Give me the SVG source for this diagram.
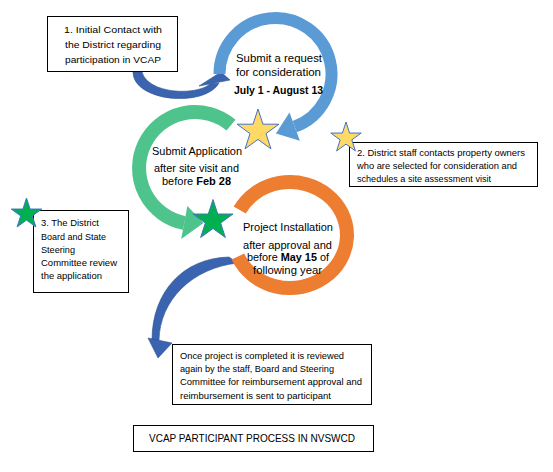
<svg xmlns="http://www.w3.org/2000/svg" xmlns:xlink="http://www.w3.org/1999/xlink" width="553" height="472" viewBox="0 0 553 472">
<style>
.box{fill:#fff;stroke:#000;stroke-width:1}
.t{font-family:"Liberation Sans",Arial,sans-serif;fill:#000}
.s{font-size:9.5px}
.m{font-size:10.5px}
.b{font-weight:bold}
.ring{fill:none;stroke-linecap:butt}
.dark{fill:#3A64B0;stroke:#2F528F;stroke-width:0.6}
.star{stroke:#4472C4;stroke-width:1;stroke-linejoin:miter}
</style>
<defs>
<path id="star" d="M0,-10 L2.245,-3.09 L9.511,-3.09 L3.633,1.18 L5.878,8.09 L0,3.82 L-5.878,8.09 L-3.633,1.18 L-9.511,-3.09 L-2.245,-3.09 Z" vector-effect="non-scaling-stroke"/>
</defs>
<rect width="553" height="472" fill="#fff"/>

<g id="connectors">
  <path class="dark" d="M133,72 C133,102 205,108 219,83 L210,84 C196,96 148,94 142,72 Z"/>
  <polygon class="dark" points="199,86 221,72 230,80"/>
  <path class="dark" d="M229,257 C183,258 152,292 152,340 L159,340 C160,300 192,268 238,263 Z"/>
  <polygon class="dark" points="148,338 172,343 158,358"/>
</g>

<g id="ring-blue">
  <path class="ring" stroke="#5B9BD5" stroke-width="12" d="M219.5,74 A56,56 0 1 1 294.7,126.6"/>
  <polygon fill="#5B9BD5" points="299.9,140.7 289.5,112.5 275.9,133.4"/>
  <text class="t m" x="279" y="61.5" text-anchor="middle" textLength="86" lengthAdjust="spacingAndGlyphs">Submit a request</text>
  <text class="t m" x="278.5" y="75.5" text-anchor="middle" textLength="85" lengthAdjust="spacingAndGlyphs">for consideration</text>
  <text class="t m b" x="278.5" y="93.5" text-anchor="middle" textLength="89" lengthAdjust="spacingAndGlyphs">July 1 - August 13</text>
</g>

<g id="ring-green">
  <path class="ring" stroke="#4EC48C" stroke-width="14" d="M231,125.1 A56,56 0 1 0 184.3,223"/>
  <polygon fill="#4EC48C" points="181.2,239 187.4,206 203.5,223"/>
  <text class="t m" x="197" y="154.5" text-anchor="middle" textLength="90" lengthAdjust="spacingAndGlyphs">Submit Application</text>
  <text class="t m" x="196.5" y="172" text-anchor="middle" textLength="85" lengthAdjust="spacingAndGlyphs">after site visit and</text>
  <text class="t m" x="162" y="184.5" textLength="69" lengthAdjust="spacingAndGlyphs">before  <tspan class="b">Feb 28</tspan></text>
</g>

<g id="ring-orange">
  <path class="ring" stroke="#ED7D31" stroke-width="14" d="M239.7,210.1 A57,53 0 1 1 237.9,256.6"/>
  <text class="t m" x="288" y="231" text-anchor="middle" textLength="90" lengthAdjust="spacingAndGlyphs">Project Installation</text>
  <text class="t m" x="287.5" y="249" text-anchor="middle" textLength="89" lengthAdjust="spacingAndGlyphs">after approval and</text>
  <text class="t m" x="247" y="261" textLength="82" lengthAdjust="spacingAndGlyphs">before <tspan class="b">May 15</tspan> of</text>
  <text class="t m" x="287.5" y="273.5" text-anchor="middle" textLength="69" lengthAdjust="spacingAndGlyphs">following year</text>
</g>

<g id="box1">
  <rect class="box" x="47.5" y="16.5" width="130" height="55"/>
  <text class="t s" x="113" y="32.5" text-anchor="middle" textLength="98" lengthAdjust="spacingAndGlyphs">1. Initial Contact with</text>
  <text class="t s" x="113" y="47.5" text-anchor="middle" textLength="96" lengthAdjust="spacingAndGlyphs">the District regarding</text>
  <text class="t s" x="113" y="62.5" text-anchor="middle" textLength="96" lengthAdjust="spacingAndGlyphs">participation in VCAP</text>
</g>

<g id="box2">
  <rect class="box" x="349.5" y="142.5" width="188" height="44"/>
  <text class="t s" x="357" y="156" textLength="168" lengthAdjust="spacingAndGlyphs">2. District staff contacts property owners</text>
  <text class="t s" x="357" y="169" textLength="160" lengthAdjust="spacingAndGlyphs">who are selected for consideration and</text>
  <text class="t s" x="357" y="182" textLength="134" lengthAdjust="spacingAndGlyphs">schedules a site assessment visit</text>
</g>

<g id="box3">
  <rect class="box" x="33.5" y="210.5" width="95" height="82"/>
  <text class="t s" x="41" y="226" textLength="58" lengthAdjust="spacingAndGlyphs">3. The District</text>
  <text class="t s" x="41" y="239.5" textLength="65" lengthAdjust="spacingAndGlyphs">Board and State</text>
  <text class="t s" x="41" y="252.5" textLength="34" lengthAdjust="spacingAndGlyphs">Steering</text>
  <text class="t s" x="41" y="266" textLength="76" lengthAdjust="spacingAndGlyphs">Committee review</text>
  <text class="t s" x="41" y="279" textLength="61" lengthAdjust="spacingAndGlyphs">the application</text>
</g>

<g id="box4">
  <rect class="box" x="172.5" y="344.5" width="199" height="60"/>
  <text class="t s" x="180" y="358.5" textLength="164" lengthAdjust="spacingAndGlyphs">Once project is completed it is reviewed</text>
  <text class="t s" x="180" y="371.5" textLength="154" lengthAdjust="spacingAndGlyphs">again by the staff, Board and Steering</text>
  <text class="t s" x="180" y="385" textLength="182" lengthAdjust="spacingAndGlyphs">Committee for reimbursement approval and</text>
  <text class="t s" x="180" y="398.5" textLength="151" lengthAdjust="spacingAndGlyphs">reimbursement is sent to participant</text>
</g>

<g id="title">
  <rect class="box" x="133.5" y="425.5" width="240" height="26"/>
  <text class="t" font-size="10.5" x="149" y="441.5" textLength="206" lengthAdjust="spacingAndGlyphs">VCAP PARTICIPANT PROCESS IN NVSWCD</text>
</g>

<g id="star-yellow-1"><use xlink:href="#star" class="star" fill="#FFD966" transform="translate(258,131) scale(2.2)"/></g>
<g id="star-yellow-2"><use xlink:href="#star" class="star" fill="#FFD966" transform="translate(346,138) scale(1.6)"/></g>
<g id="star-green-1"><use xlink:href="#star" class="star" fill="#00B050" transform="translate(213,220.5) scale(2.1)"/></g>
<g id="star-green-2"><use xlink:href="#star" class="star" fill="#00B050" transform="translate(26.5,214) scale(1.6)"/></g>
</svg>
